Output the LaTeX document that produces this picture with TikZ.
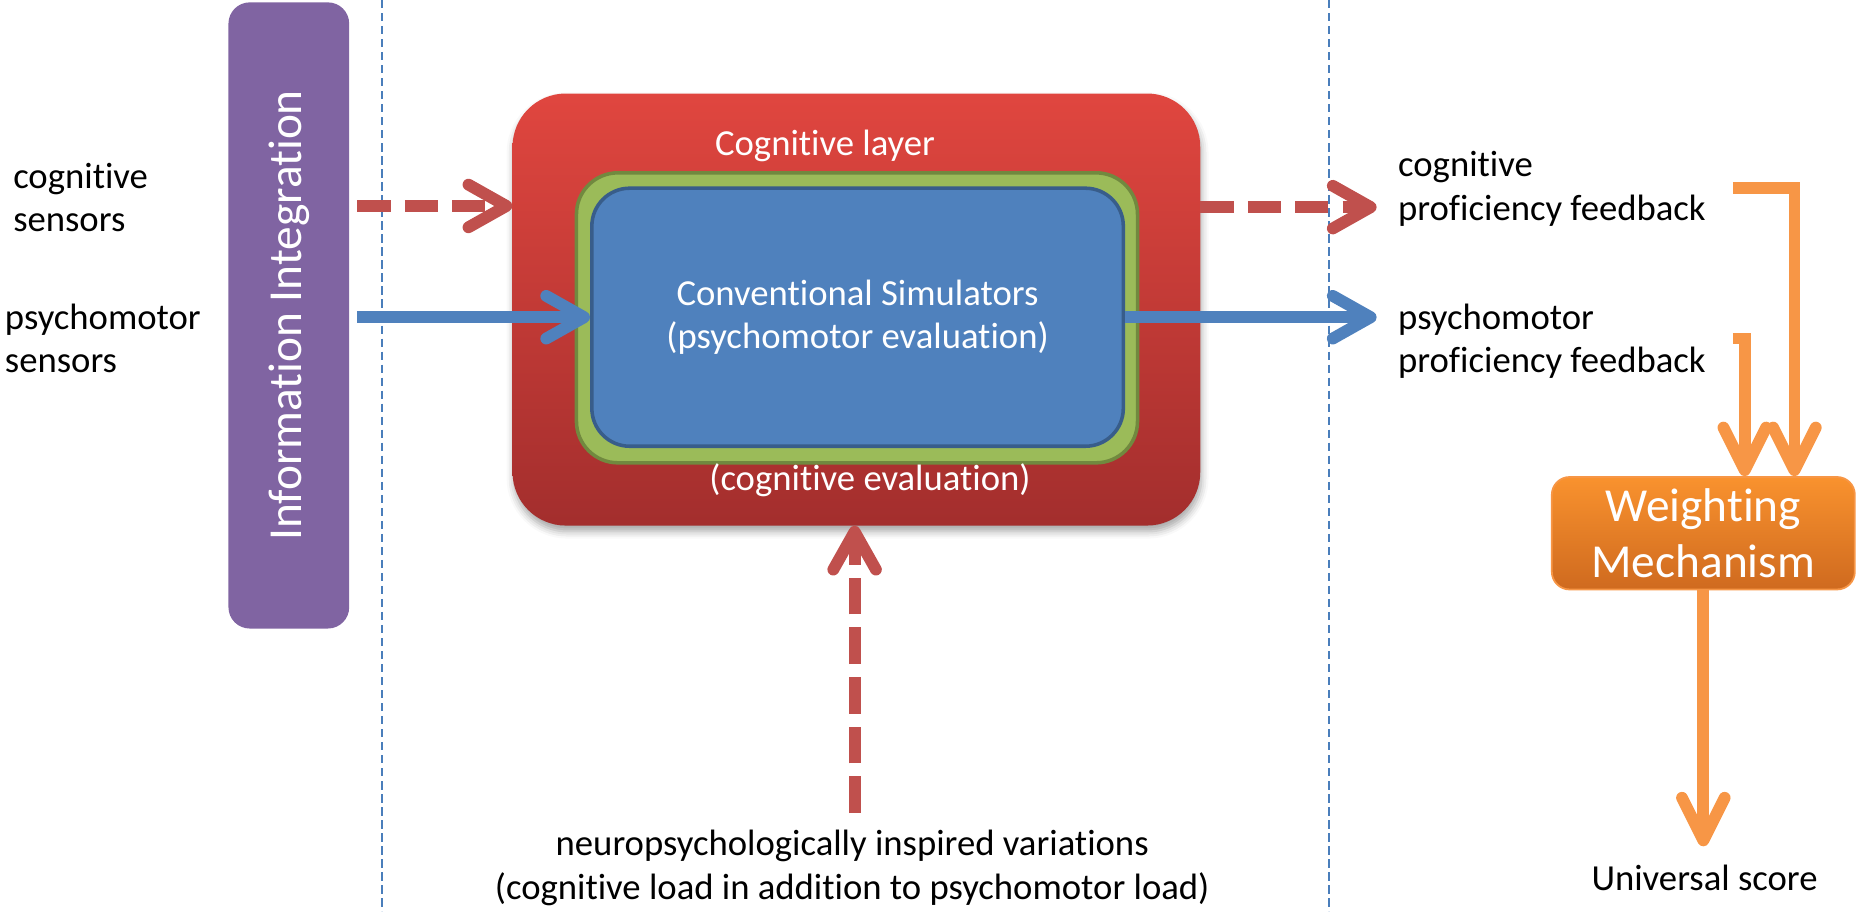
\documentclass[tikz,border=0pt]{standalone}
\usepackage{fontspec}
\setmainfont{Carlito}[Ligatures=NoCommon]
\usetikzlibrary{arrows.meta,shadows.blur}

\definecolor{cogred}{HTML}{C0504D}
\definecolor{redtop}{HTML}{E0463F}
\definecolor{redbot}{HTML}{A32E2D}
\definecolor{simblue}{HTML}{4F81BD}
\definecolor{simborder}{HTML}{385D8A}
\definecolor{layergreen}{HTML}{9BBB59}
\definecolor{greenborder}{HTML}{71893F}
\definecolor{intpurple}{HTML}{8064A2}
\definecolor{wtop}{HTML}{F9922E}
\definecolor{wbot}{HTML}{CF6A1F}
\definecolor{worange}{HTML}{F79646}
\definecolor{divblue}{HTML}{4A7EBB}

\tikzset{
  txt/.style={font=\fontsize{31}{37}\selectfont, inner sep=0pt},
  bigtxt/.style={font=\fontsize{40}{47}\selectfont, inner sep=0pt},
  dividerline/.style={divblue, line width=1.6pt, dash pattern=on 7pt off 4pt},
  purplebox/.style={fill=intpurple, rounded corners=18pt, text=white, bigtxt},
  redbox/.style={rounded corners=45pt, top color=redtop, bottom color=redbot,
    blur shadow={shadow xshift=1pt, shadow yshift=-5pt, shadow blur radius=6pt, shadow opacity=35}},
  greenbox/.style={fill=layergreen, draw=greenborder, line width=3pt, rounded corners=35pt},
  bluebox/.style={fill=simblue, draw=simborder, line width=3pt, rounded corners=32pt,
    text=white, txt, align=center},
  wbox/.style={top color=wtop, bottom color=wbot, draw=worange, line width=1.5pt,
    rounded corners=15pt, text=white, bigtxt, align=center},
  redflow/.style={cogred, line width=10pt, dash pattern=on 28pt off 12pt,
    -{Straight Barb[length=32pt, width=36pt, round]}},
  blueflow/.style={simblue, line width=10pt,
    -{Straight Barb[length=32pt, width=36pt, round]}},
  orangeflow/.style={worange, line width=10pt,
    -{Straight Barb[length=36pt, width=36pt, round]}},
}

\begin{document}
\begin{tikzpicture}[x=1pt, y=-1pt]
\useasboundingbox (0,0) rectangle (1568,770);

% column separators
\draw[dividerline] (323,0) -- (323,770);
\draw[dividerline] (1123,0) -- (1123,770);

% information integration bar
\node[purplebox, rotate=90, minimum width=529pt, minimum height=102pt] (info) at (244,266.5) {Information Integration};

% nested evaluation layers
\node[redbox, minimum width=581pt, minimum height=365pt] (cog) at (723.5,261.5) {};
\node[greenbox, minimum width=474pt, minimum height=245pt] (layer) at (724,268.5) {};
\node[bluebox, minimum width=449pt, minimum height=218pt] (sim) at (724.5,268) {Conventional Simulators\\(psychomotor evaluation)};
\node[txt, text=white, anchor=base] (coglabel) at (697,131) {Cognitive layer};
\node[txt, text=white, anchor=base] (cogeval) at (735,414) {(cognitive evaluation)};

% weighting stage
\node[wbox, minimum width=256pt, minimum height=95pt] (weight) at (1439,450.5) {Weighting\\Mechanism};

% inputs and outputs (base anchor sits on the last line)
\node[txt, anchor=base west, align=left] (cogsens) at (11,196) {cognitive\\sensors};
\node[txt, anchor=base west, align=left] (psysens) at (4,315) {psychomotor\\sensors};
\node[txt, anchor=base west, align=left] (cogfb) at (1181,186) {cognitive\\proficiency feedback};
\node[txt, anchor=base west, align=left] (psyfb) at (1181,315) {psychomotor\\proficiency feedback};
\node[txt, anchor=base, align=center] (neuro) at (720,760) {neuropsychologically inspired variations\\(cognitive load in addition to psychomotor load)};
\node[txt, anchor=base] (score) at (1440,752) {Universal score};

% connector end points
\coordinate (cogin) at (302,174);
\coordinate (psyin) at (302,268);
\coordinate (cogout) at (1163,175);
\coordinate (psyout) at (1163,268);
\coordinate (neuroup) at (722,687);
\coordinate (cogfbstart) at (1464,159);
\coordinate (cogfbbend) at (1516,159);
\coordinate (psyfbstart) at (1464,286);
\coordinate (psyfbbend) at (1474,286);
\coordinate (scoretip) at (1439,715);

% flows
\draw[redflow] (cogin) -- (cog.west |- cogin);
\draw[blueflow] (psyin) -- (sim.west |- psyin);
\draw[redflow] (cog.east |- cogout) -- (cogout);
\draw[blueflow] (sim.east |- psyout) -- (psyout);
\draw[redflow, dash pattern=on 31pt off 11pt] (neuroup) -- (neuroup |- cog.south);
\draw[orangeflow] (cogfbstart) -- (cogfbbend) -- (cogfbbend |- weight.north);
\draw[orangeflow] (psyfbstart) -- (psyfbbend) -- (psyfbbend |- weight.north);
\draw[orangeflow] (weight.south) -- (scoretip);
\end{tikzpicture}
\end{document}
